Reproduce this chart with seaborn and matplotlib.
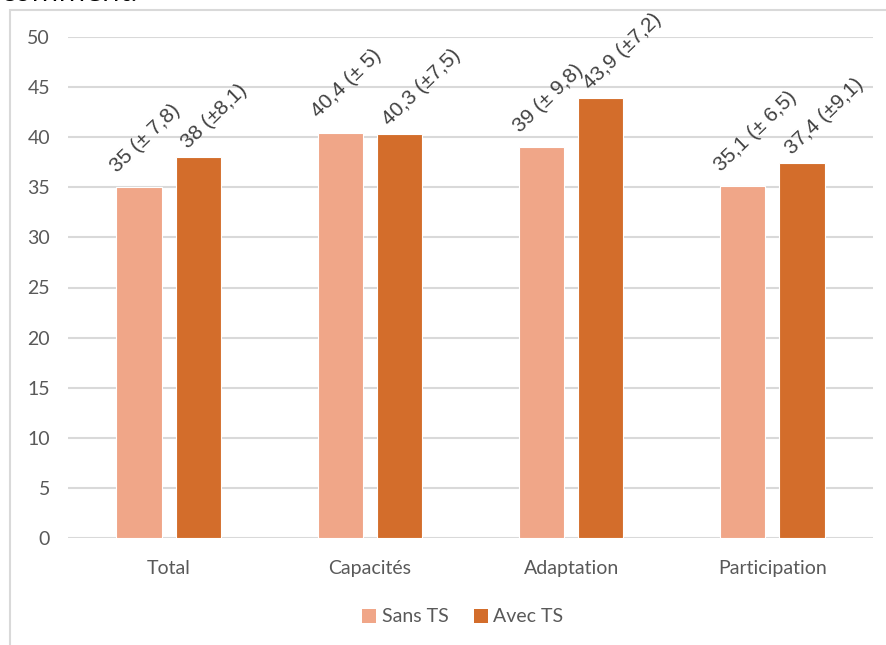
import matplotlib
matplotlib.use("Agg")
import matplotlib.pyplot as plt
from matplotlib.patches import Rectangle, Patch
import seaborn as sns
import pandas as pd

categories = ["Total", "Capacités", "Adaptation", "Participation"]
groups = ["Sans TS", "Avec TS"]
sans_ts = [35.0, 40.4, 39.0, 35.1]
avec_ts = [38.0, 40.3, 43.9, 37.4]
sans_labels = ["35 (± 7,8)", "40,4 (± 5)", "39 (± 9,8)", "35,1 (± 6,5)"]
avec_labels = ["38 (±8,1)", "40,3 (±7,5)", "43,9 (±7,2)", "37,4 (±9,1)"]
y_ticks = [0, 5, 10, 15, 20, 25, 30, 35, 40, 45, 50]

colors = {"Sans TS": "#F0A688", "Avec TS": "#D36D2B"}

df = pd.DataFrame({
    "cat": categories * 2,
    "grp": [groups[0]] * 4 + [groups[1]] * 4,
    "val": sans_ts + avec_ts,
    "lab": sans_labels + avec_labels,
})

sns.set_style("white")
plt.rcParams["font.family"] = ["Liberation Sans", "DejaVu Sans"]

W, H = 886, 645
fig = plt.figure(figsize=(W / 100, H / 100), dpi=100)

# outer chart frame
fig.patches.append(Rectangle((10 / W, -0.1), 1.2, (H - 10) / H + 0.1,
                             transform=fig.transFigure, fill=False,
                             edgecolor="#D9D9D9", linewidth=1.5))
# preceding line of the document, mostly above the chart
fig.text(0.0, 1.0 + 0.033, "comment.", fontsize=21, color="#000000",
         ha="left", va="top", family="Open Sans")

ax = fig.add_axes([68 / W, 107 / H, (873 - 68) / W, (538 - 37) / H])
sns.barplot(data=df, x="cat", y="val", hue="grp", order=categories,
            hue_order=groups, palette=colors, width=0.588, gap=0.238,
            edgecolor="white", linewidth=0.8, saturation=1, ax=ax,
            legend=False)

ax.set_ylim(0, 50)
ax.set_xlim(-0.5, 3.5)
ax.set_yticks(y_ticks)
ax.yaxis.grid(True, color="#D9D9D9", linewidth=1.5)
ax.set_axisbelow(True)
for s in ax.spines.values():
    s.set_visible(False)
ax.tick_params(axis="both", length=0)
ax.tick_params(axis="y", pad=13, labelsize=14, labelcolor="#595959")
ax.tick_params(axis="x", pad=16, labelsize=14, labelcolor="#595959")
for t in ax.get_xticklabels() + ax.get_yticklabels():
    t.set_family("Lato")
ax.set_xlabel("")
ax.set_ylabel("")

# value labels with standard deviations, rotated above each bar
offsets = [(0.7, 10.5), (9.0, 5.5)]
for container, labels, off in zip(ax.containers, [sans_labels, avec_labels], offsets):
    for bar, lab in zip(container, labels):
        x0 = bar.get_x()
        top = bar.get_height()
        ax.annotate(lab, (x0, top), xytext=off, textcoords="offset points",
                    rotation=44, rotation_mode="anchor", ha="left",
                    va="baseline", fontsize=15, color="#404040")

handles = [Patch(facecolor=colors[g], edgecolor="none") for g in groups]
fig.legend(handles, groups, loc="center", bbox_to_anchor=(463 / W, 1 - 617 / H),
           ncol=2, frameon=False, handlelength=0.7, handleheight=0.7,
           handletextpad=0.3, columnspacing=1.3,
           prop={"family": "Lato", "size": 14}, labelcolor="#595959")

fig.savefig("out.png", dpi=100)
